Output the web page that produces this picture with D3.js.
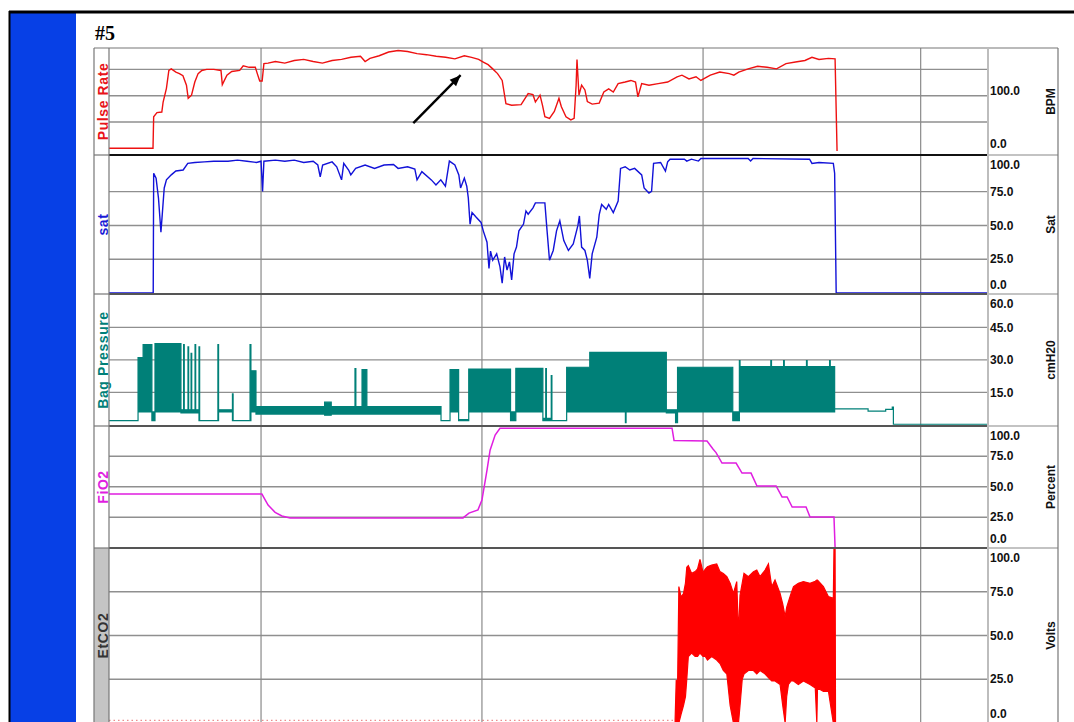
<!DOCTYPE html>
<html>
<head>
<meta charset="utf-8">
<script src="https://cdn.jsdelivr.net/npm/d3@7"></script>
<style>
  body { margin: 0; background: #fff; }
  svg { display: block; }
</style>
</head>
<body>
<div id="chart"></div>
<script>
// Page size
const width = 1074,
      height = 722;

// ---- data (time in minutes from start of the recording) ----

// Pulse rate, [minute, bpm]
const pulseRate = [
  [0, 0], [2.0, 0], [2.03, 60], [2.18, 68], [2.4, 69], [2.46, 88], [2.61, 114], [2.72, 148], [2.83, 151],
  [3.04, 145], [3.2, 142], [3.36, 138], [3.52, 120], [3.6, 95], [3.75, 101], [3.9, 126], [4.05, 142],
  [4.22, 148], [4.44, 150], [4.76, 150], [5.09, 148], [5.15, 121], [5.36, 139], [5.58, 146], [5.94, 148],
  [6.1, 157], [6.37, 154], [6.65, 154], [6.74, 142], [6.85, 128], [6.96, 128], [7.04, 161], [7.23, 162],
  [7.56, 165], [7.99, 162], [8.42, 167], [8.85, 169], [9.28, 165], [9.7, 162], [10.14, 167], [10.57, 169],
  [11.0, 173], [11.43, 175], [11.64, 165], [11.86, 171], [12.28, 176], [12.71, 183], [13.14, 186],
  [13.57, 184], [14.0, 180], [14.43, 178], [14.87, 175], [15.3, 173], [15.72, 170], [16.15, 176],
  [16.48, 173], [16.8, 169], [17.01, 164], [17.23, 159], [17.44, 151], [17.66, 142], [17.87, 129],
  [18.04, 85], [18.3, 82], [18.73, 83], [19.05, 104], [19.27, 102], [19.38, 88], [19.59, 101], [19.7, 82],
  [19.81, 60], [20.02, 57], [20.24, 70], [20.45, 95], [20.56, 79], [20.77, 60], [20.99, 54], [21.14, 57],
  [21.23, 120], [21.27, 169], [21.36, 101], [21.48, 120], [21.63, 111], [21.74, 89], [21.96, 84],
  [22.28, 86], [22.49, 107], [22.71, 113], [22.92, 107], [23.14, 123], [23.46, 126], [23.72, 129],
  [23.93, 126], [24.04, 98], [24.21, 123], [24.54, 120], [24.96, 123], [25.39, 126], [25.82, 136],
  [26.04, 139], [26.36, 132], [26.68, 136], [26.9, 129], [27.33, 139], [27.76, 145], [28.19, 142],
  [28.4, 139], [28.62, 145], [29.05, 151], [29.48, 156], [29.91, 154], [30.34, 151], [30.77, 161],
  [31.2, 164], [31.63, 167], [31.95, 173], [32.27, 169], [32.7, 171], [33.0, 170], [33.09, -5]
];

// Oxygen saturation, [minute, %]
const saturation = [
  [0, 0], [2.01, 0], [2.03, 88.6], [2.14, 85], [2.25, 70], [2.36, 45], [2.42, 58], [2.51, 77.7], [2.61, 83.7],
  [2.83, 87.4], [3.04, 90.3], [3.37, 91], [3.58, 95.9], [3.9, 96.6], [4.33, 97], [4.76, 97.5], [5.41, 97.5],
  [5.84, 98.3], [6.27, 97.5], [6.7, 96.6], [6.91, 97.5], [6.98, 75.2], [7.04, 97.5], [7.56, 98.3],
  [7.99, 97.5], [8.42, 98.3], [8.85, 96.6], [9.28, 97.5], [9.49, 94.7], [9.6, 86], [9.71, 94.7], [10.14, 97],
  [10.35, 93.4], [10.57, 83.7], [10.67, 95.9], [10.89, 91], [10.99, 87.4], [11.21, 92.2], [11.64, 94.7],
  [12.07, 92.2], [12.5, 94.7], [12.93, 95.1], [13.14, 92.2], [13.57, 93.4], [13.9, 91.7], [14.0, 83.7],
  [14.22, 89.8], [14.65, 83.7], [14.86, 80], [15.08, 83.7], [15.29, 79], [15.47, 97.6], [15.72, 94.7],
  [15.9, 87.4], [15.98, 77.7], [16.15, 85], [16.26, 79], [16.33, 70.4], [16.41, 51], [16.5, 59.5],
  [16.69, 56], [16.91, 52.2], [17.01, 46], [17.18, 37.6], [17.27, 18.2], [17.34, 31], [17.44, 24.3],
  [17.62, 29], [17.77, 19.4], [17.87, 7.3], [17.98, 26.7], [18.09, 17], [18.2, 23], [18.3, 9.7], [18.41, 29],
  [18.52, 34], [18.63, 46], [18.84, 51], [18.95, 60.7], [19.05, 58.3], [19.27, 63], [19.38, 66.7],
  [19.59, 66.7], [19.81, 66.7], [19.91, 46], [20.02, 24.3], [20.19, 31.5], [20.34, 46], [20.49, 53.4],
  [20.67, 38.8], [20.88, 31.5], [21.1, 36.4], [21.31, 49.8], [21.38, 57], [21.48, 34], [21.63, 31.5],
  [21.74, 24.3], [21.85, 10.9], [21.96, 29], [22.17, 41.3], [22.28, 58], [22.39, 65.5], [22.6, 61.9],
  [22.71, 65.5], [22.92, 59.5], [23.14, 68], [23.25, 92.2], [23.46, 93.4], [23.67, 91], [23.89, 92.2],
  [24.21, 87.4], [24.32, 77.7], [24.54, 74], [24.66, 75.2], [24.75, 95.9], [25.07, 96.6], [25.29, 90.2],
  [25.39, 97], [25.5, 99], [26.15, 99], [26.26, 97.6], [26.47, 99], [26.79, 97.6], [26.9, 99.5],
  [29.05, 99.5], [29.16, 97.6], [29.27, 99.5], [31.84, 99], [31.95, 95.9], [32.27, 96.6], [32.92, 95.9],
  [32.98, 88.6], [33.05, 0], [39.95, 0]
];

// Bag pressure envelope, [minute, min, max] (cmH2O), each row holds until the next one
const bagPressure = [
  [0, 2, 2], [1.32, 6, 31], [1.55, 6, 37], [1.95, 2, 6], [2.09, 6, 37.5], [3.27, 5.5, 7],
  [3.39, 5.5, 37], [3.42, 5.5, 7], [3.59, 5.5, 36], [3.62, 5.5, 7], [3.73, 5.5, 33], [3.76, 5.5, 7],
  [3.91, 5.5, 37], [3.94, 5.5, 7], [4.09, 2, 36], [4.12, 2, 2], [4.95, 2, 37], [4.98, 6, 7],
  [5.61, 2, 14.3], [5.64, 2, 2], [6.41, 2, 37], [6.45, 6, 25], [6.68, 5, 8.5], [9.8, 4.5, 10.5],
  [10.1, 5, 8.5], [11.18, 5, 26], [11.22, 5, 8.5], [11.5, 5, 25.5], [11.72, 5, 8.5], [15.09, 2, 2],
  [15.5, 6, 25.5], [15.89, 2, 2.5], [16.35, 6, 25.8], [18.25, 2, 6], [18.49, 6, 26.1], [19.72, 2, 3],
  [19.85, 2, 26], [19.88, 2, 3], [20.1, 2, 22.8], [20.13, 2, 2], [20.8, 6, 26.6], [21.85, 6, 33.5],
  [23.47, 1, 33.5], [23.5, 6, 33.5], [25.33, 5.5, 7], [25.75, 1, 7], [25.84, 6, 26.6], [28.35, 2, 6],
  [28.65, 6, 29.7], [28.68, 6, 26.9], [30.08, 6, 29.7], [30.11, 6, 26.9], [30.66, 6, 29.7],
  [30.69, 6, 26.9], [31.7, 6, 29.7], [31.73, 6, 26.9], [32.75, 6, 29.7], [32.78, 6, 26.9],
  [32.98, 7.4, 7.4], [34.5, 6.4, 6.4], [35.3, 7.2, 7.2], [35.6, 8.2, 8.2], [35.65, 0.3, 0.3], [39.95, 0.3, 0.3]
];

// Inspired oxygen fraction, [minute, %]
const fio2 = [
  [0, 44], [6.95, 44], [7.23, 35], [7.55, 29], [7.86, 26], [8.23, 24.4], [16.09, 24.4], [16.36, 28.4],
  [16.77, 31], [16.95, 39], [17.18, 63.7], [17.32, 80], [17.55, 92.4], [17.77, 98], [25.59, 98],
  [25.68, 88], [27.18, 87.5], [27.45, 81], [27.59, 78], [27.86, 69.4], [28.5, 69.4], [28.77, 61.2],
  [29.18, 61.2], [29.45, 50.6], [30.32, 50.6], [30.59, 41.6], [30.82, 41.6], [31.05, 33.4], [31.68, 33.4],
  [31.86, 25.2], [32.95, 25.2], [33.0, 0], [39.95, 0]
];

// End tidal CO2: flat baseline, then the waveform envelope [minute, min, max]
const etco2Baseline = [[0, 1.5], [25.73, 1.5]];
const etco2 = [
  [25.73, 0, 2], [25.78, 0, 24.6], [25.84, 0, 20], [25.9, 0, 78], [26.0, 5, 72], [26.11, 10, 74],
  [26.2, 15, 80], [26.26, 25, 89], [26.33, 38, 90], [26.48, 40, 85.5], [26.64, 38, 86.5], [26.75, 38, 88],
  [26.86, 40, 93.5], [27.0, 38, 86], [27.1, 38, 88], [27.2, 36, 89.3], [27.39, 38, 90.3], [27.62, 36, 90.9],
  [27.77, 34, 86.5], [27.92, 30, 85.5], [28.08, 28, 83.6], [28.23, 10, 79.8], [28.38, 0, 74.1],
  [28.53, 0, 80.8], [28.61, 0, 51], [28.68, 10, 73], [28.78, 25, 80], [28.86, 28, 85.5], [29.06, 30, 83.6],
  [29.29, 30, 86.5], [29.44, 28, 87.4], [29.59, 30, 83.6], [29.82, 28, 87.4], [29.97, 26, 90.9],
  [30.12, 24, 77.9], [30.27, 24, 81.7], [30.5, 22, 74.1], [30.62, 10, 68], [30.73, 0, 60.8], [30.8, 15, 66],
  [30.88, 22, 69.3], [31.0, 24, 74], [31.11, 24, 77.9], [31.33, 22, 79.8], [31.56, 24, 80.8],
  [31.86, 22, 79.8], [32.1, 20, 81], [32.17, 0, 81.7], [32.2, 20, 81.7], [32.47, 18, 77.9], [32.7, 18, 72.2],
  [32.92, 0, 71.2], [32.95, 0, 99.8], [33.0, 0, 99.8], [33.02, 0, 0], [39.95, 0, 0]
];

// Vertical grid positions (minutes)
const gridTimes = [6.91, 16.95, 27.0, 36.89];

// Grid lines and tick labels of each panel
const pulseGrid = [50, 100, 150], pulseLabels = [0, 100];
const satGrid = [25, 50, 75], satLabels = [0, 25, 50, 75, 100];
const bagGrid = [15, 30, 45], bagLabels = [15, 30, 45, 60];
const fio2Grid = [25, 50, 75], fio2Labels = [0, 25, 50, 75, 100];
const etco2Grid = [25, 50, 75], etco2Labels = [0, 25, 50, 75, 100];

// Annotation arrow in pulse panel coordinates
const arrowNote = { from: [13.83, 48], to: [15.98, 139] };

// ---- layout ----
const frameLeft = 94, plotLeft = 109, plotRight = 988, frameRight = 1058, frameTop = 48;

const panels = [
  { name: "Pulse Rate", unit: "BPM", color: "#e8141a", top: 48, bottom: 155, domain: [-12.7, 190.7],
    grid: pulseGrid, labels: pulseLabels, labelShift: -4.5, sep: "#111" },
  { name: "sat", unit: "Sat", color: "#1a1ad6", top: 155, bottom: 294, domain: [-0.7, 102.1],
    grid: satGrid, labels: satLabels, labelShift: 0, sep: "#555" },
  { name: "Bag Pressure", unit: "cmH20", color: "#008078", top: 294, bottom: 426, domain: [-0.5, 60.4],
    grid: bagGrid, labels: bagLabels, labelShift: 0, sep: "#555" },
  { name: "FiO2", unit: "Percent", color: "#e01ee0", top: 426, bottom: 548, domain: [-0.25, 99.8],
    grid: fio2Grid, labels: fio2Labels, labelShift: 0, sep: "#555" },
  { name: "EtCO2", unit: "Volts", color: "#333", top: 548, bottom: 723, domain: [0, 100],
    grid: etco2Grid, labels: etco2Labels, labelShift: 0, sep: null, shade: "#c4c4c4" }
];
panels.forEach(p => p.y = d3.scaleLinear().domain(p.domain).range([p.bottom, p.top]));

const x = d3.scaleLinear().domain([0, 39.95]).range([plotLeft, plotRight]);

const svg = d3.select("#chart").append("svg")
    .attr("width", width)
    .attr("height", height)
    .style("font-family", "Arial, 'Liberation Sans', sans-serif");

// blue side band + black page border
svg.append("rect").attr("x", 10).attr("y", 12).attr("width", 66).attr("height", height).attr("fill", "#0740e6");
svg.append("line").attr("x1", 9).attr("x2", width).attr("y1", 12).attr("y2", 12)
    .attr("stroke", "#000").attr("stroke-width", 3);
svg.append("line").attr("x1", 9.5).attr("x2", 9.5).attr("y1", 11).attr("y2", height)
    .attr("stroke", "#000").attr("stroke-width", 2);

svg.append("text")
    .attr("x", 95).attr("y", 40)
    .style("font-family", "'Liberation Serif', 'Times New Roman', serif")
    .style("font-size", "20px").style("font-weight", "bold")
    .text("#5");

const defs = svg.append("defs");
panels.forEach((p, i) => {
    defs.append("clipPath").attr("id", "clip" + i)
      .append("rect")
        .attr("x", plotLeft).attr("y", p.top)
        .attr("width", plotRight - plotLeft).attr("height", p.bottom - p.top);
});
defs.append("marker")
    .attr("id", "startArrow").attr("viewBox", "-8 -5 10 10")
    .attr("markerWidth", 8).attr("markerHeight", 8)
    .attr("markerUnits", "userSpaceOnUse")
    .attr("orient", "auto")
  .append("path").attr("d", "M-7,0L0,-3L0,3Z").attr("fill", "context-stroke");
defs.append("marker")
    .attr("id", "noteHead").attr("viewBox", "-12 -6 13 12")
    .attr("markerWidth", 13).attr("markerHeight", 12)
    .attr("markerUnits", "userSpaceOnUse")
    .attr("orient", "auto")
  .append("path").attr("d", "M0,0L-11,-4.5L-11,4.5Z").attr("fill", "#000");

// shaded label cells
panels.filter(p => p.shade).forEach(p => {
    svg.append("rect").attr("x", frameLeft).attr("y", p.top)
        .attr("width", plotLeft - frameLeft).attr("height", p.bottom - p.top)
        .attr("fill", p.shade);
});

// horizontal grid
panels.forEach(p => {
    svg.append("g").selectAll("line")
        .data(p.grid)
        .join("line")
        .attr("x1", plotLeft).attr("x2", plotRight)
        .attr("y1", d => p.y(d)).attr("y2", d => p.y(d))
        .attr("stroke", "#8f8f8f").attr("stroke-width", 1.4);
});

// vertical grid
svg.append("g").selectAll("line")
    .data(gridTimes)
    .join("line")
    .attr("x1", d => x(d)).attr("x2", d => x(d))
    .attr("y1", frameTop).attr("y2", height)
    .attr("stroke", "#8a8a8a").attr("stroke-width", 1.2);

// ---- traces ----
const [pP, pS, pB, pF, pE] = panels;

const lineOf = p => d3.line().x(d => x(d[0])).y(d => p.y(d[1]));
const bandOf = p => d3.area().x(d => x(d[0])).y0(d => p.y(d[1])).y1(d => p.y(d[2]));

svg.append("path").datum(pulseRate)
    .attr("clip-path", "url(#clip0)")
    .attr("d", lineOf(pP))
    .attr("fill", "none").attr("stroke", "#ee1111").attr("stroke-width", 1.4)
    .attr("marker-start", "url(#startArrow)");

svg.append("path").datum(saturation)
    .attr("clip-path", "url(#clip1)")
    .attr("d", lineOf(pS))
    .attr("fill", "none").attr("stroke", "#1212d8").attr("stroke-width", 1.4)
    .attr("marker-start", "url(#startArrow)");

// bag pressure breaths are drawn as blocks (step envelope)
svg.append("path").datum(bagPressure)
    .attr("clip-path", "url(#clip2)")
    .attr("d", bandOf(pB).curve(d3.curveStepAfter))
    .attr("fill", "#008078").attr("stroke", "#008078").attr("stroke-width", 1.2);

svg.append("path").datum(fio2)
    .attr("clip-path", "url(#clip3)")
    .attr("d", lineOf(pF))
    .attr("fill", "none").attr("stroke", "#e01ee0").attr("stroke-width", 1.5);

// flat EtCO2 baseline looks dotted, the waveform block is filled
svg.append("path").datum(etco2Baseline)
    .attr("clip-path", "url(#clip4)")
    .attr("d", lineOf(pE))
    .attr("fill", "none").attr("stroke", "#e04040").attr("stroke-width", 1.2)
    .attr("stroke-dasharray", "1.5,3").attr("opacity", 0.6);
svg.append("path").datum(etco2)
    .attr("clip-path", "url(#clip4)")
    .attr("d", bandOf(pE))
    .attr("fill", "#ff0000").attr("stroke", "#ff0000").attr("stroke-width", 1.2);

// annotation arrow
svg.append("line")
    .attr("x1", x(arrowNote.from[0])).attr("y1", pP.y(arrowNote.from[1]))
    .attr("x2", x(arrowNote.to[0])).attr("y2", pP.y(arrowNote.to[1]))
    .attr("stroke", "#000").attr("stroke-width", 2.4)
    .attr("marker-end", "url(#noteHead)");

// ---- frame, separators and labels ----
panels.forEach(p => {
    if (p.sep) {
        svg.append("line").attr("x1", plotLeft).attr("x2", plotRight)
            .attr("y1", p.bottom).attr("y2", p.bottom)
            .attr("stroke", p.sep).attr("stroke-width", 2);
        svg.append("line").attr("x1", frameLeft).attr("x2", plotLeft)
            .attr("y1", p.bottom).attr("y2", p.bottom)
            .attr("stroke", "#777").attr("stroke-width", 1.2);
        svg.append("line").attr("x1", plotRight).attr("x2", frameRight)
            .attr("y1", p.bottom).attr("y2", p.bottom)
            .attr("stroke", "#888").attr("stroke-width", 1.2);
    }

    // series name, rotated in the left column
    svg.append("text")
        .attr("transform", `translate(${(frameLeft + plotLeft) / 2 + 6.5},${(p.top + p.bottom) / 2}) rotate(-90)`)
        .attr("text-anchor", "middle")
        .style("font-size", "14px").style("font-weight", "bold").style("letter-spacing", "0.6px")
        .attr("fill", p.color)
        .text(p.name);

    // unit, rotated in the right column
    svg.append("text")
        .attr("transform", `translate(${1055},${(p.top + p.bottom) / 2}) rotate(-90)`)
        .attr("text-anchor", "middle")
        .style("font-size", "12px").style("font-weight", "bold")
        .attr("fill", "#111")
        .text(p.unit);

    // tick labels, kept inside the panel
    svg.append("g").selectAll("text")
        .data(p.labels)
        .join("text")
        .attr("x", plotRight + 2)
        .attr("y", d => Math.max(p.top + 9.5, Math.min(p.bottom - 9.5, p.y(d) + p.labelShift)))
        .attr("dy", "0.35em")
        .style("font-size", "12px").style("font-weight", "bold")
        .attr("fill", "#111")
        .text(d => d.toFixed(1));
});

// outer frame lines
svg.append("line").attr("x1", frameLeft).attr("x2", frameRight).attr("y1", frameTop).attr("y2", frameTop)
    .attr("stroke", "#777").attr("stroke-width", 1.2);
[frameLeft, plotLeft, frameRight].forEach(v => {
    svg.append("line").attr("x1", v).attr("x2", v).attr("y1", frameTop).attr("y2", height)
        .attr("stroke", "#777").attr("stroke-width", 1.2);
});
svg.append("line").attr("x1", plotRight).attr("x2", plotRight).attr("y1", frameTop).attr("y2", height)
    .attr("stroke", "#bdbdbd").attr("stroke-width", 2);
</script>
</body>
</html>
